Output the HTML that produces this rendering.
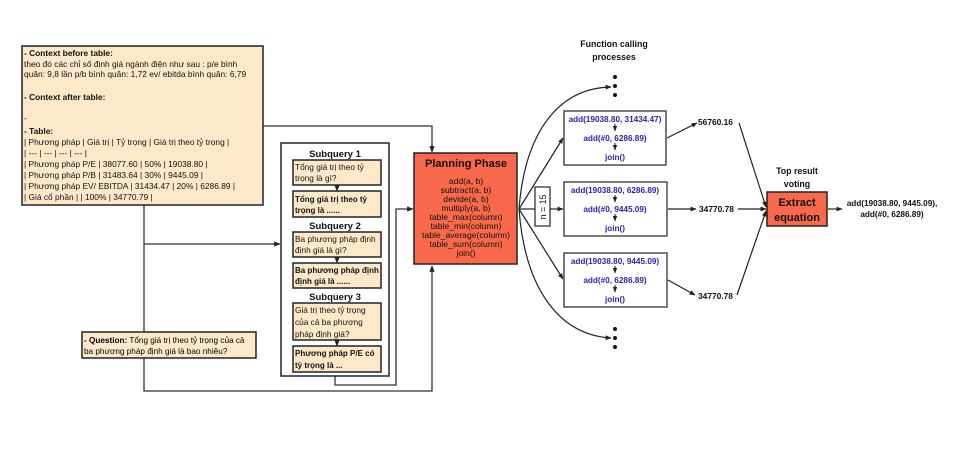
<!DOCTYPE html>
<html><head><meta charset="utf-8"><style>
body{margin:0;background:#fff;}
svg text{font-family:"Liberation Sans","DejaVu Sans",sans-serif;}
</style></head><body>
<svg width="961" height="464" viewBox="0 0 961 464" xmlns="http://www.w3.org/2000/svg">
<defs>
<marker id="a" viewBox="0 0 10 10" refX="9" refY="5" markerWidth="5" markerHeight="5" orient="auto"><path d="M0,1 L10,5 L0,9 z" fill="#222"/></marker>
</defs>
<g stroke="#333" stroke-width="1.3" fill="none">
<polyline points="263,126 432,126 432,152" marker-end="url(#a)"/>
<line x1="144" y1="205" x2="144" y2="332"/>
<line x1="144" y1="244" x2="280" y2="244" marker-end="url(#a)"/>
<polyline points="144,358 144,391 432,391 432,266" marker-end="url(#a)"/>
<polyline points="335,376 335,385 396,385 396,209 413,209" marker-end="url(#a)"/>
</g>
<rect x="22" y="46" width="241" height="159" fill="#fde9c9" stroke="#222" stroke-width="1.5"/>
<g font-size="8.4" fill="#111">
<text x="24" y="56"><tspan font-weight="bold">- Context before table:</tspan></text>
<text x="24" y="67">theo đó các chỉ số định giá ngành điện như sau : p/e bình</text>
<text x="24" y="77">quân: 9,8 lần p/b bình quân: 1,72 ev/ ebitda bình quân: 6,79</text>
<text x="24" y="100" font-weight="bold">- Context after table:</text>
<text x="24" y="121">-</text>
<text x="24" y="134" font-weight="bold">- Table:</text>
<text x="24" y="145">| Phương pháp | Giá trị | Tỷ trọng | Giá trị theo tỷ trọng |</text>
<text x="24" y="156">| --- | --- | --- | --- |</text>
<text x="24" y="167">| Phương pháp P/E | 38077.60 | 50% | 19038.80 |</text>
<text x="24" y="178">| Phương pháp P/B | 31483.64 | 30% | 9445.09 |</text>
<text x="24" y="189">| Phương pháp EV/ EBITDA | 31434.47 | 20% | 6286.89 |</text>
<text x="24" y="200">| Giá cổ phần | | 100% | 34770.79 |</text>
</g>
<rect x="82" y="332" width="174" height="26" fill="#fde9c9" stroke="#222" stroke-width="1.5"/>
<text x="84" y="343" font-size="8.2"><tspan font-weight="bold">- Question:</tspan> Tổng giá trị theo tỷ trọng của cả</text>
<text x="84" y="354" font-size="8.2">ba phương pháp định giá là bao nhiêu?</text>
<rect x="281" y="143" width="108" height="233" fill="#fff" stroke="#222" stroke-width="1.5"/>
<g font-size="9.5" font-weight="bold" text-anchor="middle" fill="#111">
<text x="335" y="157">Subquery 1</text>
<text x="335" y="229">Subquery 2</text>
<text x="335" y="300">Subquery 3</text>
</g>
<g fill="#fde9c9" stroke="#222" stroke-width="1.5">
<rect x="293" y="160" width="88" height="25"/>
<rect x="293" y="191" width="88" height="26"/>
<rect x="293" y="232" width="88" height="25"/>
<rect x="293" y="263" width="88" height="25"/>
<rect x="293" y="303" width="88" height="37"/>
<rect x="293" y="346" width="88" height="26"/>
</g>
<g stroke="#222" stroke-width="1.2" fill="none"><line x1="337" y1="185" x2="337" y2="191" marker-end="url(#a)"/><line x1="337" y1="257" x2="337" y2="263" marker-end="url(#a)"/><line x1="337" y1="340" x2="337" y2="346" marker-end="url(#a)"/></g>
<g font-size="8.3" fill="#111">
<text x="295" y="170">Tổng giá trị theo tỷ</text><text x="295" y="181">trọng là gì?</text>
<text x="295" y="202" font-weight="bold" font-size="8">Tổng giá trị theo tỷ</text><text x="295" y="213" font-weight="bold" font-size="8">trọng là ......</text>
<text x="295" y="242">Ba phương pháp định</text><text x="295" y="253">định giá là gì?</text>
<text x="295" y="273" font-weight="bold" font-size="8">Ba phương pháp định</text><text x="295" y="284" font-weight="bold" font-size="8">định giá là ......</text>
<text x="295" y="313">Giá trị theo tỷ trọng</text><text x="295" y="325">của cả ba phương</text><text x="295" y="337">pháp định giá?</text>
<text x="295" y="356" font-weight="bold" font-size="8">Phương pháp P/E có</text><text x="295" y="368" font-weight="bold" font-size="8">tỷ trọng là ...</text>
</g>
<rect x="414" y="153" width="103" height="111" fill="#f7694a" stroke="#222" stroke-width="1.5"/>
<text x="466" y="167" font-size="11" font-weight="bold" text-anchor="middle" fill="#111">Planning Phase</text>
<g font-size="8.6" text-anchor="middle" fill="#111">
<text x="466" y="184">add(a, b)</text><text x="466" y="193">subtract(a, b)</text><text x="466" y="202">devide(a, b)</text><text x="466" y="211">multiply(a, b)</text><text x="466" y="220">table_max(column)</text><text x="466" y="229">table_min(column)</text><text x="466" y="238">table_average(column)</text><text x="466" y="247">table_sum(column)</text><text x="466" y="256">join()</text>
</g>
<g stroke="#222" stroke-width="1.2" fill="none">
<path d="M519,209 C525,130 560,88 611,87" marker-end="url(#a)"/>
<path d="M519,209 C525,290 560,335 611,338" marker-end="url(#a)"/>
<line x1="519" y1="209" x2="563" y2="138" marker-end="url(#a)"/>
<line x1="519" y1="209" x2="563" y2="279" marker-end="url(#a)"/>
<line x1="519" y1="209" x2="535" y2="209"/>
<line x1="550" y1="209" x2="563" y2="209" marker-end="url(#a)"/>
<line x1="667" y1="138" x2="697" y2="123" marker-end="url(#a)"/>
<line x1="668" y1="209" x2="696" y2="209" marker-end="url(#a)"/>
<line x1="668" y1="280" x2="695" y2="295" marker-end="url(#a)"/>
<line x1="739" y1="123" x2="766" y2="207" marker-end="url(#a)"/>
<line x1="738" y1="209" x2="766" y2="209" marker-end="url(#a)"/>
<line x1="737" y1="295" x2="766" y2="211" marker-end="url(#a)"/>
<line x1="828" y1="209" x2="842" y2="209" marker-end="url(#a)"/>
</g>
<g fill="#111"><circle cx="615" cy="77" r="2"/><circle cx="615" cy="86" r="2"/><circle cx="615" cy="95" r="2"/><circle cx="615" cy="329" r="2"/><circle cx="615" cy="338" r="2"/><circle cx="615" cy="347" r="2"/></g>
<text x="614" y="47" font-size="8.8" font-weight="bold" text-anchor="middle" fill="#111">Function calling</text>
<text x="614" y="60" font-size="8.8" font-weight="bold" text-anchor="middle" fill="#111">processes</text>
<rect x="535" y="187" width="15" height="39" fill="#fff" stroke="#222" stroke-width="1.2"/>
<text transform="translate(546,207) rotate(-90)" font-size="8.8" text-anchor="middle" fill="#111">n = 15</text>
<g fill="#fff" stroke="#333" stroke-width="1.3">
<rect x="564" y="111" width="102" height="54"/><rect x="564" y="182" width="103" height="54"/><rect x="564" y="253" width="103" height="54"/>
</g>
<g stroke="#222" stroke-width="1.1" fill="none"><line x1="615" y1="124" x2="615" y2="131" marker-end="url(#a)"/><line x1="615" y1="143" x2="615" y2="150" marker-end="url(#a)"/><line x1="615" y1="195" x2="615" y2="202" marker-end="url(#a)"/><line x1="615" y1="214" x2="615" y2="221" marker-end="url(#a)"/><line x1="615" y1="266" x2="615" y2="273" marker-end="url(#a)"/><line x1="615" y1="285" x2="615" y2="292" marker-end="url(#a)"/></g>
<g font-size="8.2" font-weight="bold" text-anchor="middle" fill="#2a1fb5">
<text x="615" y="122">add(19038.80, 31434.47)</text><text x="615" y="141">add(#0, 6286.89)</text><text x="615" y="160">join()</text>
<text x="615" y="193">add(19038.80, 6286.89)</text><text x="615" y="212">add(#0, 9445.09)</text><text x="615" y="231">join()</text>
<text x="615" y="264">add(19038.80, 9445.09)</text><text x="615" y="283">add(#0, 6286.89)</text><text x="615" y="302">join()</text>
</g>
<g font-size="8.4" font-weight="bold" fill="#111">
<text x="698" y="125">56760.16</text><text x="699" y="212">34770.78</text><text x="698" y="299">34770.78</text>
</g>
<text x="797" y="174" font-size="8.8" font-weight="bold" text-anchor="middle" fill="#111">Top result</text>
<text x="797" y="187" font-size="8.8" font-weight="bold" text-anchor="middle" fill="#111">voting</text>
<rect x="767" y="192" width="60" height="34" fill="#f7694a" stroke="#222" stroke-width="1.5"/>
<text x="797" y="206" font-size="11" font-weight="bold" text-anchor="middle" fill="#111">Extract</text>
<text x="797" y="221" font-size="11" font-weight="bold" text-anchor="middle" fill="#111">equation</text>
<text x="892" y="206" font-size="8.2" font-weight="bold" text-anchor="middle" fill="#111">add(19038.80, 9445.09),</text>
<text x="892" y="217" font-size="8.2" font-weight="bold" text-anchor="middle" fill="#111">add(#0, 6286.89)</text>
</svg>
</body></html>
